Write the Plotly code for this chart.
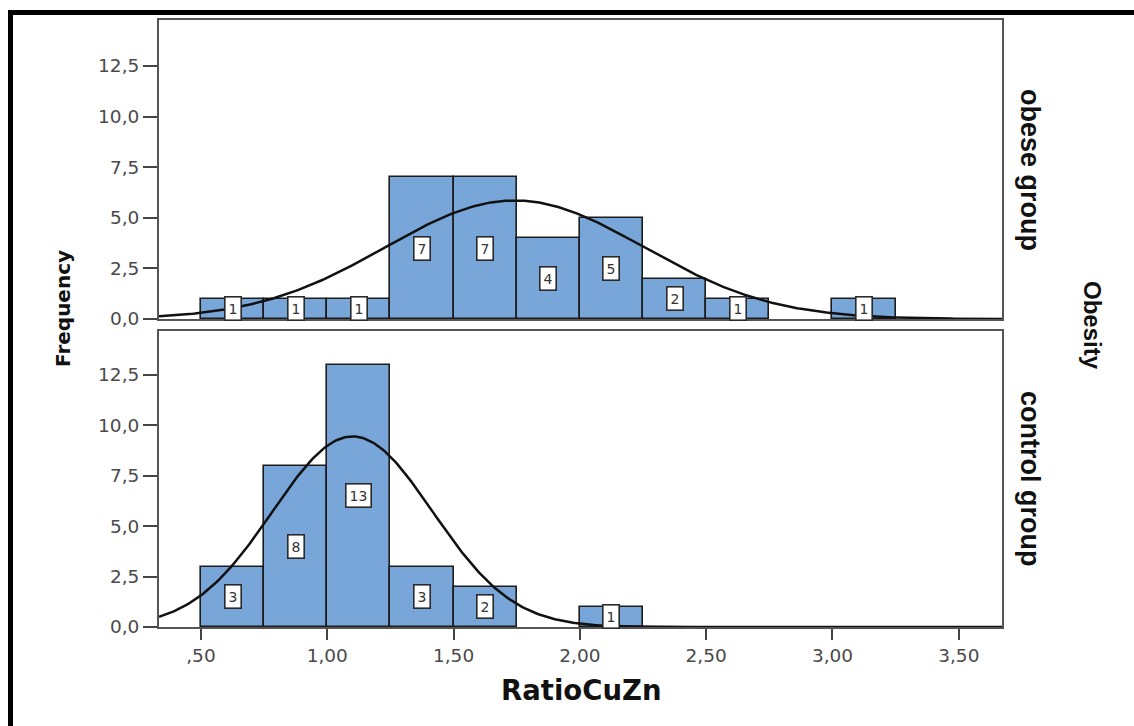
import numpy as np
import plotly.graph_objects as go

# Histogram bins of RatioCuZn (bin width 0.25)
bin_width = 0.25
obese_bin_starts = [0.50, 0.75, 1.00, 1.25, 1.50, 1.75, 2.00, 2.25, 2.50, 3.00]
obese_counts = [1, 1, 1, 7, 7, 4, 5, 2, 1, 1]
control_bin_starts = [0.50, 0.75, 1.00, 1.25, 1.50, 2.00]
control_counts = [3, 8, 13, 3, 2, 1]

# Fitted normal curve parameters per group
obese_mean, obese_sd, obese_n = 1.742, 0.511, 30
control_mean, control_sd, control_n = 1.100, 0.3166, 30

x_ticks = [0.5, 1.0, 1.5, 2.0, 2.5, 3.0, 3.5]
x_tick_text = [",50", "1,00", "1,50", "2,00", "2,50", "3,00", "3,50"]
y_ticks = [0, 2.5, 5.0, 7.5, 10.0, 12.5]
y_tick_text = ["0,0", "2,5", "5,0", "7,5", "10,0", "12,5"]

x_range = [0.334, 3.671]

BAR_FILL = "#79a6d8"
BAR_EDGE = "#1c1c1c"
FRAME = "#555555"
TICK_FONT = dict(family="DejaVu Sans, Verdana, sans-serif", size=18.5, color="#4a4a4a")
NARROW = "Liberation Sans Narrow, Arial Narrow, Liberation Sans, sans-serif"

# plot area in pixels (for placing paper-referenced items)
L, R, T, B = 159, 1002, 20, 627
W_PX, H_PX = R - L, B - T


def px(x):
    return (x - L) / W_PX


def py(y):
    return (B - y) / H_PX


def normal_curve(mean, sd, n):
    xs = np.linspace(x_range[0], x_range[1], 400)
    ys = n * bin_width * np.exp(-0.5 * ((xs - mean) / sd) ** 2) / (sd * np.sqrt(2 * np.pi))
    return xs, ys


fig = go.Figure()

panels = [
    ("x2", "y2", obese_bin_starts, obese_counts, obese_mean, obese_sd, obese_n),
    ("x", "y", control_bin_starts, control_counts, control_mean, control_sd, control_n),
]

annotations = []
for xa, ya, starts, counts, mu, sd, n in panels:
    centers = [s + bin_width / 2 for s in starts]
    fig.add_trace(go.Bar(
        x=centers, y=counts, width=bin_width, xaxis=xa, yaxis=ya,
        marker=dict(color=BAR_FILL, line=dict(color=BAR_EDGE, width=1.6)),
        showlegend=False, hoverinfo="skip",
    ))
    cx, cy = normal_curve(mu, sd, n)
    fig.add_trace(go.Scatter(
        x=cx, y=cy, mode="lines", xaxis=xa, yaxis=ya,
        line=dict(color="#111111", width=2.5), showlegend=False, hoverinfo="skip",
    ))
    for c, v in zip(centers, counts):
        annotations.append(dict(
            x=c, y=v / 2, xref=xa, yref=ya, text=str(v), showarrow=False,
            xanchor="center", yanchor="middle",
            font=dict(family="DejaVu Sans, sans-serif", size=14, color="#333333"),
            bgcolor="white", bordercolor="#2a2a2a", borderwidth=1.6, borderpad=3,
        ))


def label(text, x, y, size, family, angle=0):
    return dict(text=text, x=x, y=y, xref="paper", yref="paper", textangle=angle,
                showarrow=False, xanchor="center", yanchor="middle",
                font=dict(family=family, size=size, color="#111111"))


# axis titles and facet labels
annotations += [
    label("<b>Frequency</b>", px(63), py(309), 20, "DejaVu Sans, sans-serif", -90),
    label("<b>RatioCuZn</b>", 0.5, py(690), 27.5, "DejaVu Sans, sans-serif"),
    label("<b>obese group</b>", px(1030), py(170), 27, NARROW, 90),
    label("<b>control group</b>", px(1030), py(478), 27, NARROW, 90),
    label("<b>Obesity</b>", px(1093), py(325), 24, NARROW, 90),
]

# heavy black frame along the top and left edges
shapes = [
    dict(type="line", xref="paper", yref="paper", x0=px(8), x1=px(1134),
         y0=py(12.5), y1=py(12.5), line=dict(color="black", width=5)),
    dict(type="line", xref="paper", yref="paper", x0=px(10.5), x1=px(10.5),
         y0=py(10), y1=py(726), line=dict(color="black", width=5)),
]

axis_common = dict(range=x_range, showgrid=False, zeroline=False, showline=True,
                   linecolor=FRAME, linewidth=2, mirror=True)
y_common = dict(showgrid=False, zeroline=False, showline=True, linecolor=FRAME,
                linewidth=2, mirror=True, tickvals=y_ticks, ticktext=y_tick_text,
                ticks="outside", ticklen=14, tickwidth=2, tickcolor="#444444",
                tickfont=TICK_FONT)

fig.update_layout(
    width=1134, height=726,
    margin=dict(l=L, r=1134 - R, t=T, b=726 - B),
    paper_bgcolor="white", plot_bgcolor="white",
    bargap=0,
    xaxis=dict(**axis_common, anchor="y", tickvals=x_ticks, ticktext=x_tick_text,
               ticks="outside", ticklen=11, tickwidth=2, tickcolor="#444444",
               tickfont=TICK_FONT),
    yaxis=dict(**y_common, domain=[0, py(331)], range=[0, 14.68], anchor="x"),
    xaxis2=dict(**axis_common, anchor="y2", showticklabels=False, ticks=""),
    yaxis2=dict(**y_common, domain=[py(319), 1], range=[0, 14.77], anchor="x2"),
    annotations=annotations,
    shapes=shapes,
)

fig.write_html("out.html")
